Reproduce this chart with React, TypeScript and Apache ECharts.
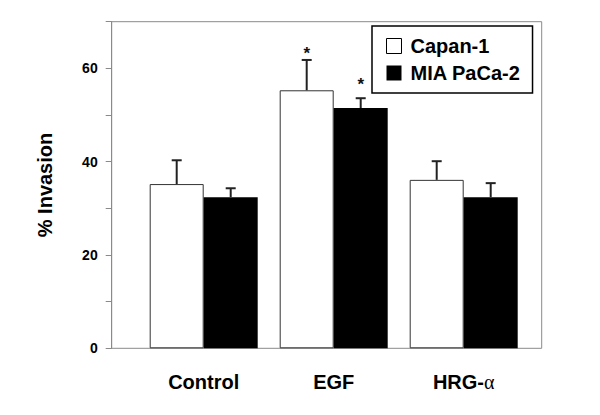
import React, { useEffect, useRef } from "react";
import * as echarts from "echarts";

const categories = ["Control", "EGF", "HRG-α"];
const seriesNames = ["Capan-1", "MIA PaCa-2"];
const capanValues = [35.2, 55.3, 36.1];
const capanErrTops = [40.3, 61.8, 40.1];
const miaValues = [32.4, 51.5, 32.4];
const miaErrTops = [34.3, 53.6, 35.4];
const capanSig = [false, true, false];
const miaSig = [false, true, false];
const yTickLabels = [0, 20, 40, 60];

const FONT = "'Liberation Sans', Arial, Helvetica, sans-serif";
const BAR_W = 54;

export default function App() {
  const ref = useRef<HTMLDivElement>(null);

  useEffect(() => {
    document.body.style.margin = "0";
    if (!ref.current) return;
    const chart = echarts.init(ref.current, null, { renderer: "svg" });

    const errData = (values: number[], tops: number[], sig: boolean[]) =>
      values.map((v, i) => [i, v, tops[i], sig[i] ? 1 : 0]);

    const makeErrRender = (offset: number, starLift: number) => (params: any, api: any) => {
      const idx = api.value(0);
      const base = api.coord([idx, api.value(1)]);
      const top = api.coord([idx, api.value(2)]);
      const x = base[0] + offset;
      const children: any[] = [
        {
          type: "line",
          shape: { x1: x, y1: base[1], x2: x, y2: top[1] },
          style: { stroke: "#222", lineWidth: 2 },
        },
        {
          type: "line",
          shape: { x1: x - 5, y1: top[1], x2: x + 5, y2: top[1] },
          style: { stroke: "#222", lineWidth: 2 },
        },
      ];
      if (api.value(3)) {
        children.push({
          type: "text",
          x: x,
          y: top[1] - starLift,
          style: {
            text: "*",
            fontSize: 17,
            fontWeight: "bold",
            fontFamily: FONT,
            fill: "#111",
            align: "center",
            verticalAlign: "bottom",
          },
        });
      }
      return { type: "group", children };
    };

    chart.setOption({
      animation: false,
      backgroundColor: "#fff",
      grid: [
        {
          left: 111.7,
          right: 58.3,
          top: 21.7,
          bottom: 66.7,
          show: true,
          borderColor: "#8a8a8a",
          borderWidth: 1,
          backgroundColor: "transparent",
        },
        {
          left: 138.7,
          width: 390,
          top: 21.7,
          bottom: 66.7,
        },
      ],
      legend: {
        orient: "vertical",
        left: 372,
        top: 26,
        padding: [10, 12, 10, 14],
        itemGap: 7,
        itemWidth: 15,
        itemHeight: 15,
        borderColor: "#000",
        borderWidth: 1.5,
        backgroundColor: "#fff",
        icon: "rect",
        data: [
          { name: seriesNames[0], itemStyle: { color: "#fff", borderColor: "#000", borderWidth: 1 } },
          { name: seriesNames[1], itemStyle: { color: "#000" } },
        ],
        textStyle: {
          fontSize: 20,
          fontWeight: "bold",
          fontFamily: FONT,
          color: "#000",
          padding: [0, 0, 0, 4],
        },
      },
      xAxis: [
        {
          type: "value",
          gridIndex: 0,
          show: false,
          min: 0,
          max: 1,
        },
        {
          type: "category",
          gridIndex: 1,
          data: categories,
          axisLine: { show: false },
          axisTick: { show: false },
          axisLabel: {
            margin: 24,
            fontSize: 20,
            fontWeight: "bold",
            fontFamily: FONT,
            color: "#000",
            formatter: (v: string) => (v.endsWith("α") ? v.slice(0, -1) + "{a|α}" : v),
            rich: {
              a: {
                fontSize: 20,
                fontWeight: "normal",
                fontFamily: "'Liberation Serif', 'DejaVu Serif', serif",
                color: "#000",
              },
            },
          },
        },
      ],
      yAxis: [
        {
          type: "value",
          gridIndex: 0,
          min: 0,
          max: 70,
          interval: 10,
          name: "% Invasion",
          nameLocation: "middle",
          nameGap: 57,
          nameTextStyle: {
            fontSize: 20,
            fontWeight: "bold",
            fontFamily: FONT,
            color: "#000",
          },
          axisLine: { show: true, lineStyle: { color: "#8a8a8a", width: 1 } },
          axisTick: { show: true, length: 6, lineStyle: { color: "#8a8a8a" } },
          splitLine: { show: false },
          axisLabel: {
            margin: 14,
            fontSize: 14,
            fontWeight: "bold",
            fontFamily: FONT,
            color: "#000",
            formatter: (v: number) => (yTickLabels.indexOf(v) >= 0 ? String(v) : ""),
          },
        },
        {
          type: "value",
          gridIndex: 1,
          min: 0,
          max: 70,
          show: false,
          splitLine: { show: false },
        },
      ],
      series: [
        {
          name: seriesNames[0],
          type: "bar",
          xAxisIndex: 1,
          yAxisIndex: 1,
          barWidth: BAR_W,
          barGap: "0%",
          data: capanValues,
          itemStyle: { color: "#fff", borderColor: "#333", borderWidth: 1 },
          z: 2,
        },
        {
          name: seriesNames[1],
          type: "bar",
          xAxisIndex: 1,
          yAxisIndex: 1,
          barWidth: BAR_W,
          barGap: "0%",
          data: miaValues,
          itemStyle: { color: "#000" },
          z: 2,
        },
        {
          name: "capanErr",
          type: "custom",
          xAxisIndex: 1,
          yAxisIndex: 1,
          data: errData(capanValues, capanErrTops, capanSig),
          renderItem: makeErrRender(-BAR_W / 2, -2),
          z: 3,
        },
        {
          name: "miaErr",
          type: "custom",
          xAxisIndex: 1,
          yAxisIndex: 1,
          data: errData(miaValues, miaErrTops, miaSig),
          renderItem: makeErrRender(BAR_W / 2, 5),
          z: 3,
        },
      ],
    });

    return () => chart.dispose();
  }, []);

  return <div ref={ref} style={{ width: 600, height: 415 }} />;
}
